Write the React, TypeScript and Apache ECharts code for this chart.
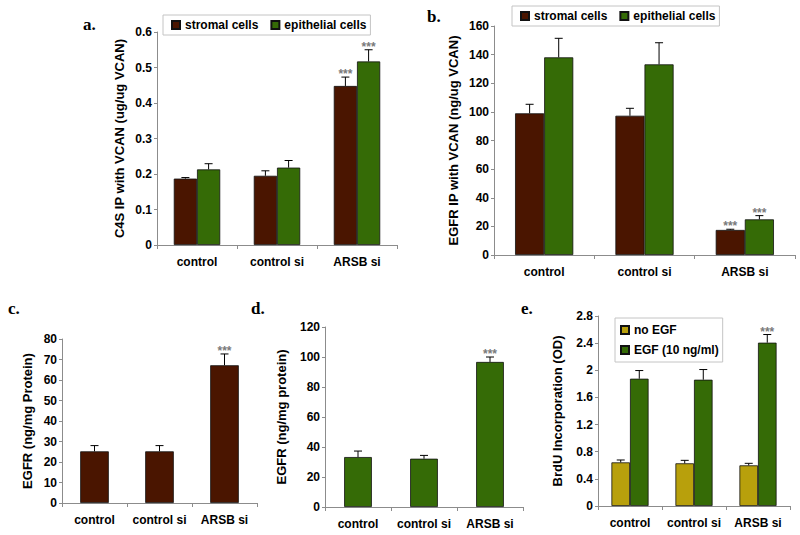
import React, { useEffect, useRef } from "react";
import * as echarts from "echarts";

const categories = ["control", "control si", "ARSB si"];

// Panel a: C4S IP with VCAN (ug/ug VCAN)
const aStromal = [0.187, 0.195, 0.448];
const aStromalErr = [0.003, 0.014, 0.025];
const aEpithelial = [0.213, 0.218, 0.517];
const aEpithelialErr = [0.016, 0.02, 0.033];
const aStromalSig = [false, false, true];
const aEpithelialSig = [false, false, true];

// Panel b: EGFR IP with VCAN (ng/ug VCAN)
const bStromal = [99, 97.3, 17.5];
const bStromalErr = [6.3, 5.2, 0.5];
const bEpithelial = [138.1, 133.2, 24.9];
const bEpithelialErr = [13.3, 15.1, 2.6];
const bStromalSig = [false, false, true];
const bEpithelialSig = [false, false, true];

// Panel c: EGFR (ng/mg Protein), stromal
const cValues = [25.2, 25.2, 67.2];
const cErr = [2.8, 2.8, 5.5];
const cSig = [false, false, true];

// Panel d: EGFR (ng/mg protein), epithelial
const dValues = [33.3, 32.2, 96.7];
const dErr = [4, 2.2, 3.3];
const dSig = [false, false, true];

// Panel e: BrdU Incorporation (OD)
const eNoEGF = [0.643, 0.629, 0.599];
const eNoEGFErr = [0.035, 0.044, 0.03];
const eEGF = [1.876, 1.861, 2.407];
const eEGFErr = [0.12, 0.15, 0.12];
const eNoEGFSig = [false, false, false];
const eEGFSig = [false, false, true];

const BROWN = "#4a1500";
const GREEN = "#356b06";
const YELLOW = "#b8a00c";
const FONT = '"Liberation Sans", Arial, sans-serif';
const AXIS = "#8c8c8c";

function barSeries(name: string, idx: number, data: number[], color: string, gap: string) {
  return {
    type: "bar",
    name,
    xAxisIndex: idx,
    yAxisIndex: idx,
    data,
    barGap: "0%",
    barCategoryGap: gap,
    itemStyle: { color, borderColor: "#111", borderWidth: 0.8 },
  };
}

function errSeries(
  name: string,
  idx: number,
  vals: number[],
  errs: number[],
  sig: boolean[],
  offsetFrac: number,
  cap: number
) {
  return {
    type: "custom",
    name,
    xAxisIndex: idx,
    yAxisIndex: idx,
    z: 10,
    encode: { x: 0, y: [1, 2] },
    data: vals.map((v, i) => [i, v, v + errs[i], sig[i] ? 1 : 0]),
    renderItem: (params: any, api: any) => {
      const i = api.value(0);
      const band = api.size([1, 0])[0];
      const base = api.coord([i, api.value(1)]);
      const top = api.coord([i, api.value(2)]);
      const x = base[0] + offsetFrac * band;
      const children: any[] = [
        {
          type: "line",
          shape: { x1: x, y1: base[1], x2: x, y2: top[1] },
          style: { stroke: "#000", lineWidth: 1 },
        },
        {
          type: "line",
          shape: { x1: x - cap, y1: top[1], x2: x + cap, y2: top[1] },
          style: { stroke: "#000", lineWidth: 1 },
        },
      ];
      if (api.value(3)) {
        children.push({
          type: "text",
          x: x,
          y: top[1] - 3,
          style: {
            text: "***",
            fill: "#7a7a7a",
            font: `bold 12px ${FONT}`,
            textAlign: "center",
            textVerticalAlign: "middle",
          },
        });
      }
      return { type: "group", children };
    },
  };
}

function xAxis(idx: number) {
  return {
    type: "category",
    gridIndex: idx,
    data: categories,
    axisLine: { lineStyle: { color: AXIS, width: 1 } },
    axisTick: { show: true, length: 4, lineStyle: { color: AXIS } },
    axisLabel: {
      color: "#000",
      fontWeight: "bold",
      fontSize: 12,
      fontFamily: FONT,
      margin: 11,
      interval: 0,
      hideOverlap: false,
    },
  };
}

function yAxis(idx: number, max: number, interval: number, name: string, nameGap: number, fontSize = 12) {
  return {
    type: "value",
    gridIndex: idx,
    min: 0,
    max,
    interval,
    name,
    nameLocation: "middle",
    nameGap,
    nameTextStyle: { color: "#000", fontWeight: "bold", fontSize: 13, fontFamily: FONT },
    splitLine: { show: false },
    axisLine: { show: true, lineStyle: { color: AXIS, width: 1 } },
    axisTick: { show: true, length: 3, lineStyle: { color: AXIS } },
    axisLabel: { color: "#000", fontWeight: "bold", fontSize, fontFamily: FONT, margin: 5 },
  };
}

function panelLabel(text: string, x: number, baseline: number) {
  return {
    type: "text",
    x,
    y: baseline - 13,
    style: {
      text,
      fill: "#000",
      font: 'bold 17px "Liberation Serif", "Times New Roman", serif',
      textVerticalAlign: "top",
    },
  };
}

export default function App() {
  const ref = useRef<HTMLDivElement>(null);

  useEffect(() => {
    if (!ref.current) return;
    const chart = echarts.init(ref.current, undefined, { renderer: "svg" });
    const legendText = { color: "#000", fontWeight: "bold", fontSize: 12, fontFamily: FONT };
    const option: any = {
      animation: false,
      backgroundColor: "#fff",
      grid: [
        { left: 157, top: 32, width: 240, height: 213 },
        { left: 494, top: 26, width: 301, height: 229 },
        { left: 62, top: 339, width: 195, height: 164 },
        { left: 325, top: 327, width: 198, height: 180 },
        { left: 598, top: 316, width: 192, height: 190 },
      ],
      xAxis: [xAxis(0), xAxis(1), xAxis(2), xAxis(3), xAxis(4)],
      yAxis: [
        yAxis(0, 0.6, 0.1, "C4S IP with VCAN (ug/ug VCAN)", 31),
        yAxis(1, 160, 20, "EGFR IP with VCAN (ng/ug VCAN)", 34),
        yAxis(2, 80, 10, "EGFR (ng/mg Protein)", 28),
        yAxis(3, 120, 20, "EGFR (ng/mg protein)", 37),
        yAxis(4, 2.8, 0.4, "BrdU Incorporation (OD)", 34),
      ],
      legend: [
        {
          data: ["stromal cells", "epithelial cells"],
          left: 163,
          top: 15,
          orient: "horizontal",
          icon: "rect",
          itemWidth: 8,
          itemHeight: 8,
          itemGap: 12,
          padding: [4, 4, 4, 8],
          borderColor: "#c4c4c4",
          borderWidth: 1,
          backgroundColor: "#fff",
          textStyle: legendText,
          selectedMode: false,
        },
        {
          data: ["stromal cells", "epithelial cells"],
          left: 512,
          top: 6,
          orient: "horizontal",
          icon: "rect",
          itemWidth: 8,
          itemHeight: 8,
          itemGap: 12,
          padding: [4, 4, 4, 8],
          borderColor: "#c4c4c4",
          borderWidth: 1,
          backgroundColor: "#fff",
          textStyle: legendText,
          selectedMode: false,
        },
        {
          data: ["no EGF", "EGF (10 ng/ml)"],
          left: 615,
          top: 318,
          orient: "vertical",
          icon: "rect",
          itemWidth: 8,
          itemHeight: 8,
          itemGap: 8,
          padding: [6, 4, 6, 5],
          borderColor: "#c4c4c4",
          borderWidth: 1,
          backgroundColor: "#fff",
          textStyle: legendText,
          selectedMode: false,
        },
      ],
      graphic: [
        panelLabel("a.", 83, 29),
        panelLabel("b.", 427, 21),
        panelLabel("c.", 8, 313),
        panelLabel("d.", 251, 313),
        panelLabel("e.", 521, 313),
      ],
      series: [
        barSeries("stromal cells", 0, aStromal, BROWN, "42%"),
        barSeries("epithelial cells", 0, aEpithelial, GREEN, "42%"),
        errSeries("a stromal err", 0, aStromal, aStromalErr, aStromalSig, -0.145, 4),
        errSeries("a epithelial err", 0, aEpithelial, aEpithelialErr, aEpithelialSig, 0.145, 4),

        barSeries("stromal cells", 1, bStromal, BROWN, "42%"),
        barSeries("epithelial cells", 1, bEpithelial, GREEN, "42%"),
        errSeries("b stromal err", 1, bStromal, bStromalErr, bStromalSig, -0.145, 4),
        errSeries("b epithelial err", 1, bEpithelial, bEpithelialErr, bEpithelialSig, 0.145, 4),

        barSeries("c stromal", 2, cValues, BROWN, "56%"),
        errSeries("c err", 2, cValues, cErr, cSig, 0, 4),

        barSeries("d epithelial", 3, dValues, GREEN, "58%"),
        errSeries("d err", 3, dValues, dErr, dSig, 0, 4),

        barSeries("no EGF", 4, eNoEGF, YELLOW, "42%"),
        barSeries("EGF (10 ng/ml)", 4, eEGF, GREEN, "42%"),
        errSeries("e noEGF err", 4, eNoEGF, eNoEGFErr, eNoEGFSig, -0.145, 4),
        errSeries("e EGF err", 4, eEGF, eEGFErr, eEGFSig, 0.145, 4),
      ],
    };
    chart.setOption(option);
    return () => chart.dispose();
  }, []);

  return (
    <div
      ref={ref}
      style={{ position: "absolute", left: 0, top: 0, width: 800, height: 535, background: "#fff" }}
    />
  );
}
